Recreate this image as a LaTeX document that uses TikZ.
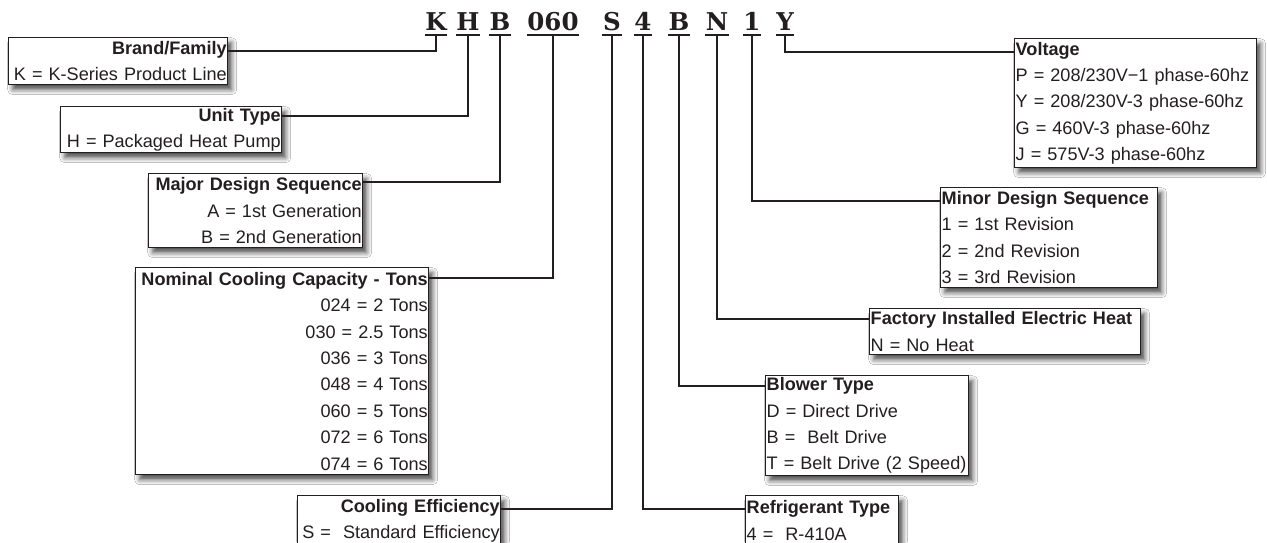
\documentclass[tikz,border=0pt]{standalone}
\usepackage{fontspec}
\setmainfont{Liberation Sans}
\newfontfamily\codefont{DejaVu Serif}
\usetikzlibrary{shadows.blur}
\definecolor{ink}{RGB}{35,31,32}
\tikzset{
  lbox/.style={draw=ink, line width=1.4pt, fill=white, text=ink, anchor=north west,
    inner xsep=1pt, inner ysep=0pt,
    font=\fontsize{18.1}{26.4}\selectfont,
    blur shadow={shadow xshift=4pt, shadow yshift=-5pt, shadow blur radius=5pt, shadow opacity=70}},
  code/.style={anchor=base, inner xsep=0.5pt, inner ysep=0pt, text=ink,
    font=\codefont\bfseries\fontsize{24.5}{24}\selectfont},
  conn/.style={draw=ink, line width=2.6pt, line join=miter},
  uline/.style={draw=ink, line width=2.6pt}
}
\begin{document}
\begin{tikzpicture}[x=1pt,y=-1pt]
\useasboundingbox (0,0) rectangle (1267,542);
\clip (0,0) rectangle (1267,542);
\fill[white] (0,0) rectangle (1267,542);

% code letters
\node[code] (cK) at (436,30) {K};
\node[code] (cH) at (468,30) {H};
\node[code] (cB) at (500,30) {B};
\node[code] (cT) at (553,30) {060};
\node[code] (cS) at (612,30) {S};
\node[code] (c4) at (643,30) {4};
\node[code] (cB2) at (679,30) {B};
\node[code] (cN) at (717,30) {N};
\node[code] (c1) at (752,30) {1};
\node[code] (cY) at (785,30) {Y};

\coordinate (uK) at (436,35);
\coordinate (uH) at (468,35);
\coordinate (uB) at (500,35);
\coordinate (uT) at (553,35);
\coordinate (uS) at (612,35);
\coordinate (u4) at (643,35);
\coordinate (uB2) at (679,35);
\coordinate (uN) at (717,35);
\coordinate (u1) at (752,35);
\coordinate (uY) at (785,35);

\foreach \c/\u in {cK/uK,cH/uH,cB/uB,cT/uT,cS/uS,c4/u4,cB2/uB2,cN/uN,c1/u1,cY/uY}
  \draw[uline] (\c.south west |- \u) -- (\c.south east |- \u);

% boxes
\node[lbox, minimum width=219pt, minimum height=47pt, text width=217pt, align=right] (brand) at (8,37)
  {\textbf{Brand/Family}\\K = K-Series Product Line};
\node[lbox, minimum width=221pt, minimum height=46pt, text width=219pt, align=right] (unit) at (60,106)
  {\textbf{Unit Type}\\H = Packaged Heat Pump};
\node[lbox, minimum width=214pt, minimum height=74pt, text width=212pt, align=right] (major) at (148,173)
  {\textbf{Major Design Sequence}\\A = 1st Generation\\B = 2nd Generation};
\node[lbox, minimum width=293pt, minimum height=207pt, text width=291pt, align=right] (nominal) at (135,267)
  {\textbf{Nominal Cooling Capacity - Tons}\\024 = 2 Tons\\030 = 2.5 Tons\\036 = 3 Tons\\048 = 4 Tons\\060 = 5 Tons\\072 = 6 Tons\\074 = 6 Tons};
\node[lbox, minimum width=203pt, minimum height=50pt, text width=201pt, align=right] (cooling) at (297,495)
  {\textbf{Cooling Efficiency}\\S =\ \ Standard Efficiency};
\node[lbox, minimum width=153pt, minimum height=50pt, text width=151pt, align=left] (refrig) at (745,495)
  {\textbf{Refrigerant Type}\\4 =\ \ R-410A};
\node[lbox, minimum width=203pt, minimum height=100pt, text width=201pt, align=left] (blower) at (765,375)
  {\textbf{Blower Type}\\D = Direct Drive\\B =\ \ Belt Drive\\T = Belt Drive (2 Speed)};
\node[lbox, minimum width=271pt, minimum height=46pt, text width=269pt, align=left] (factory) at (869,308)
  {\textbf{Factory Installed Electric Heat}\\N = No Heat};
\node[lbox, minimum width=217pt, minimum height=100pt, text width=215pt, align=left] (minor) at (940,187)
  {\textbf{Minor Design Sequence}\\1 = 1st Revision\\2 = 2nd Revision\\3 = 3rd Revision};
\node[lbox, minimum width=242pt, minimum height=129pt, text width=240pt, align=left] (voltage) at (1014,38)
  {\textbf{Voltage}\\P = 208/230V\textminus 1 phase-60hz\\Y = 208/230V-3 phase-60hz\\G = 460V-3 phase-60hz\\J = 575V-3 phase-60hz};

% connectors
\draw[conn] ([yshift=-14pt]brand.north east) -| (uK);
\draw[conn] ([yshift=-10pt]unit.north east) -| (uH);
\draw[conn] ([yshift=-9pt]major.north east) -| (uB);
\draw[conn] ([yshift=-11pt]nominal.north east) -| (uT);
\draw[conn] ([yshift=-14pt]cooling.north east) -| (uS);
\draw[conn] ([yshift=-14pt]refrig.north west) -| (u4);
\draw[conn] ([yshift=-11pt]blower.north west) -| (uB2);
\draw[conn] ([yshift=-11pt]factory.north west) -| (uN);
\draw[conn] ([yshift=-14pt]minor.north west) -| (u1);
\draw[conn] ([yshift=-14pt]voltage.north west) -| (uY);
\end{tikzpicture}
\end{document}
